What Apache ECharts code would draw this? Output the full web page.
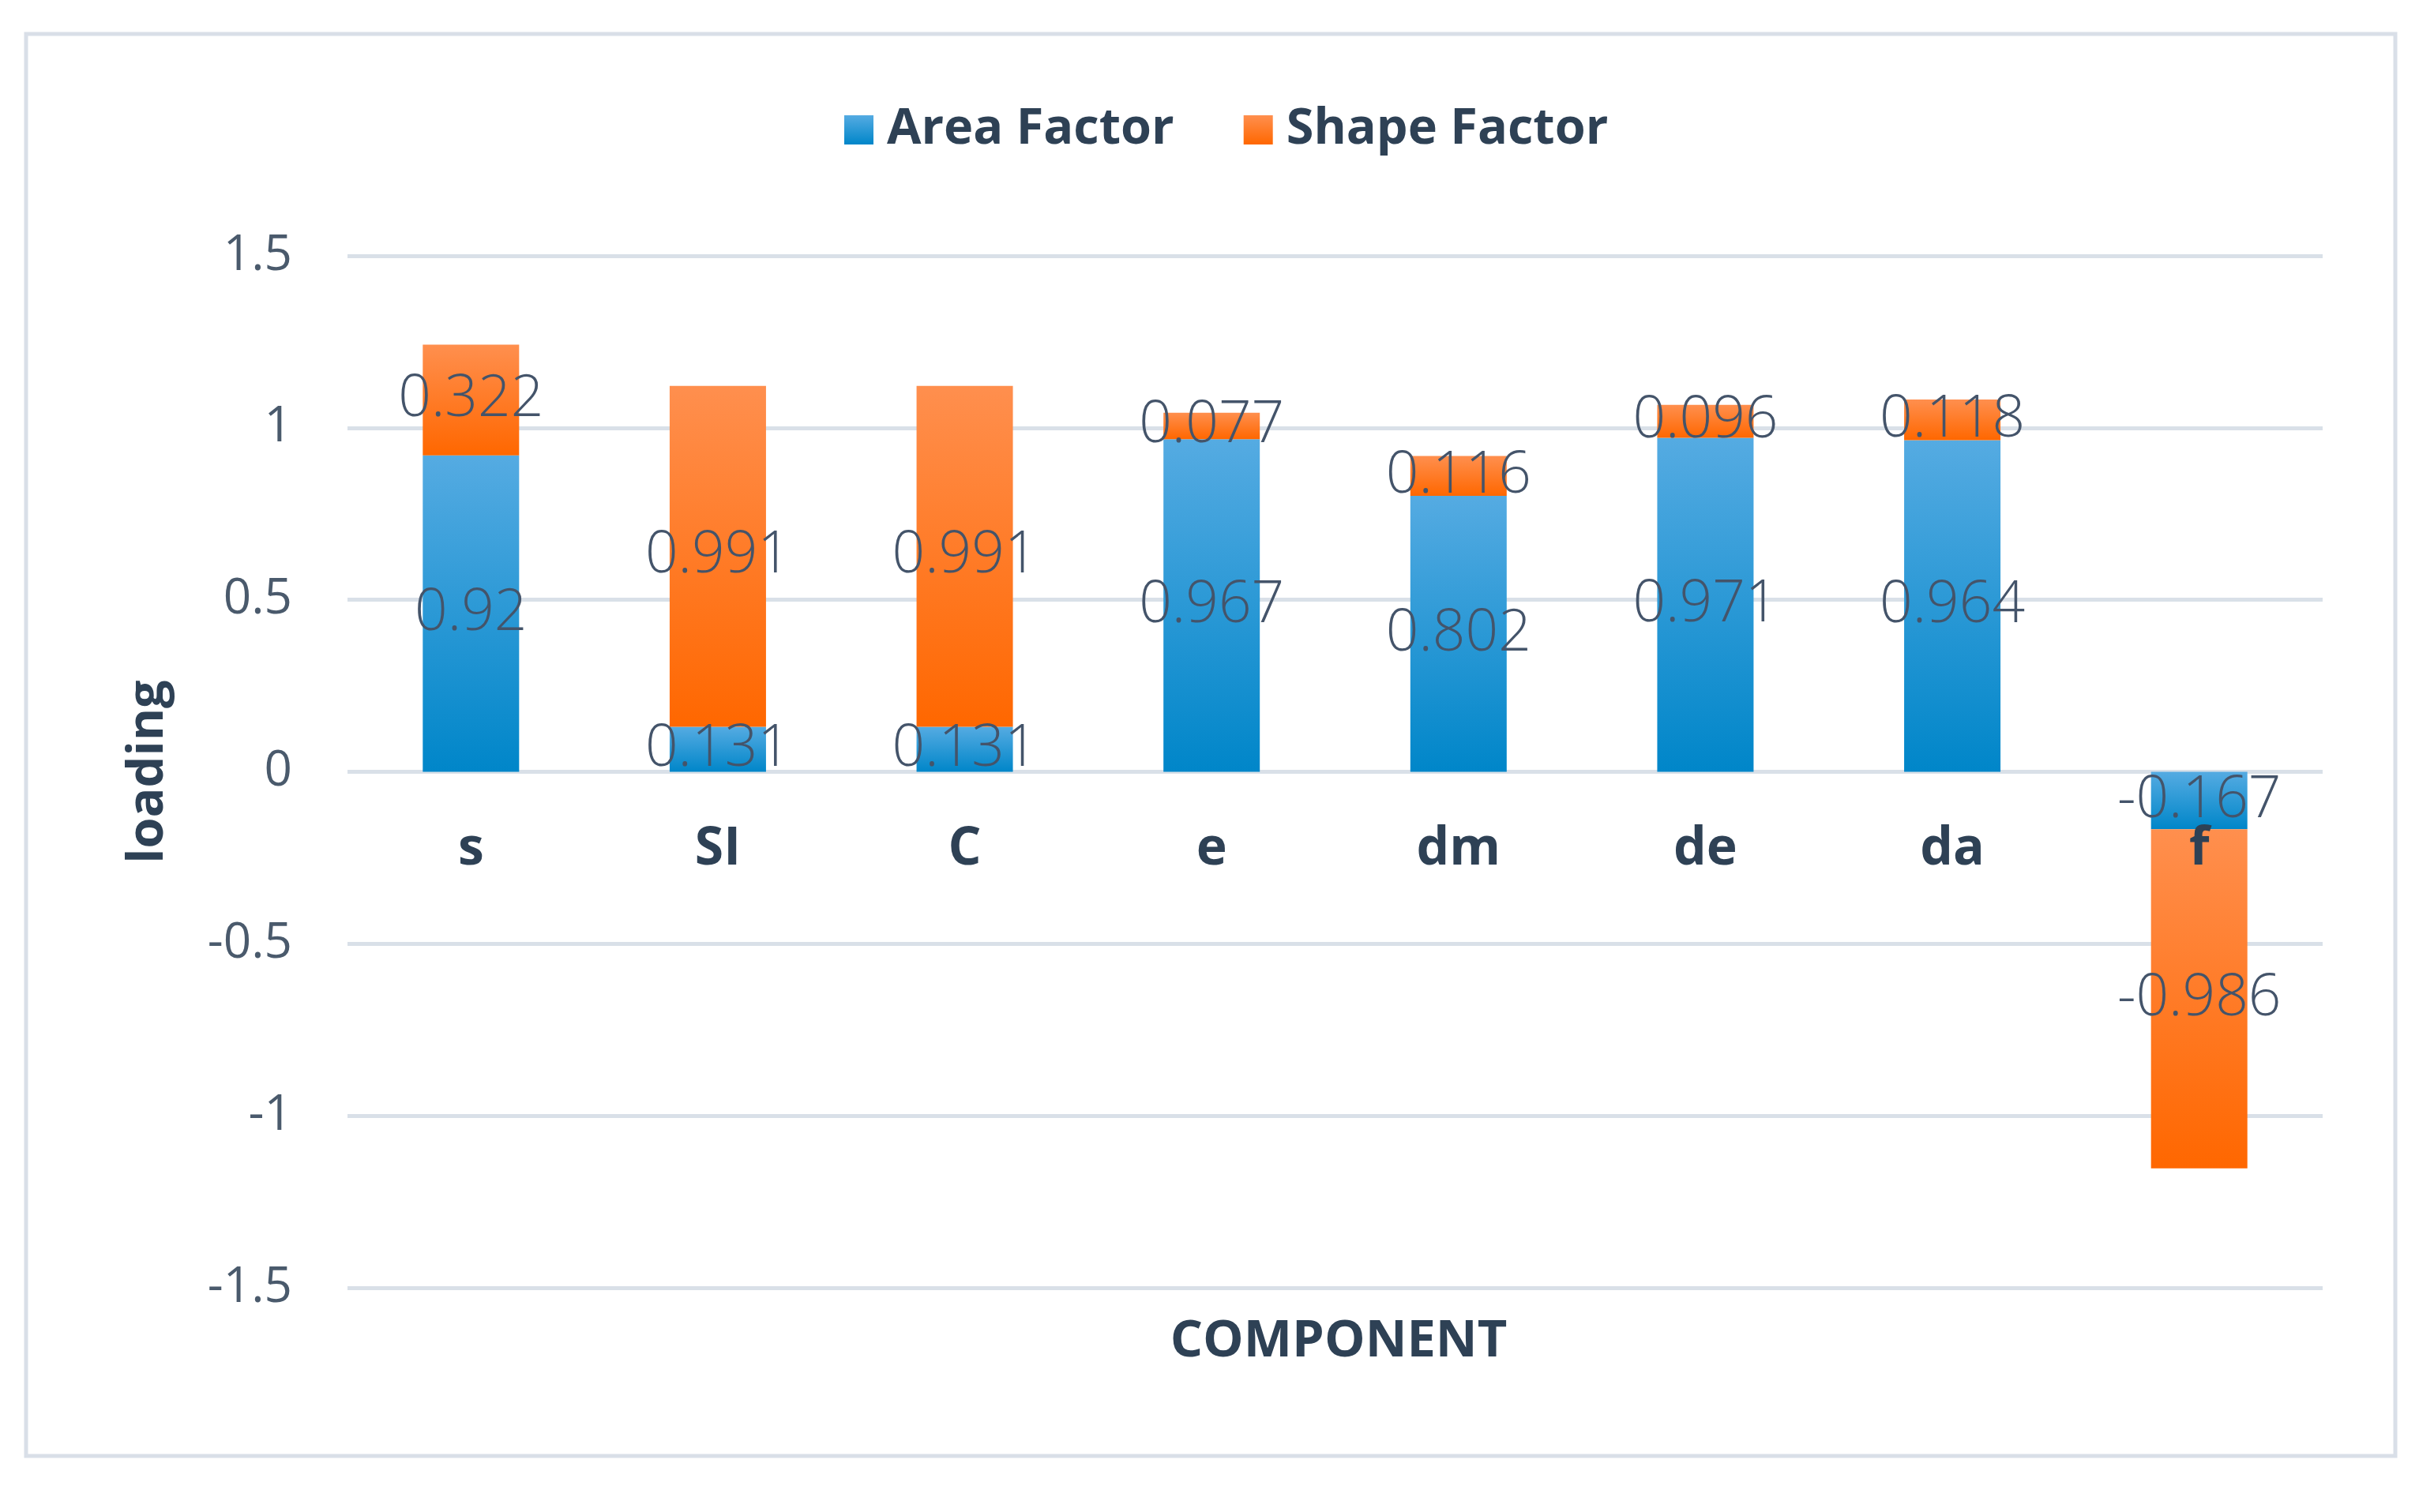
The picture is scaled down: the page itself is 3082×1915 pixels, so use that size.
<!DOCTYPE html>
<html>
<head>
<meta charset="utf-8">
<script src="https://cdn.jsdelivr.net/npm/echarts@6/dist/echarts.min.js"></script>
<style>
html,body{margin:0;padding:0;background:#fff;}
#c{width:3082px;height:1915px;}
</style>
</head>
<body>
<div id="c"></div>
<script>
const categories = ['s', 'SI', 'C', 'e', 'dm', 'de', 'da', 'f'];
const areaFactor = [0.92, 0.131, 0.131, 0.967, 0.802, 0.971, 0.964, -0.167];
const shapeFactor = [0.322, 0.991, 0.991, 0.077, 0.116, 0.096, 0.118, -0.986];
const seriesNames = ['Area Factor', 'Shape Factor'];
const xAxisName = 'COMPONENT';
const yAxisName = 'loading';
const yMin = -1.5, yMax = 1.5, yStep = 0.5;

const FONT = '"Open Sans", "Noto Sans", sans-serif';
const gridColor = '#d9e0e8';
const W = 3082, H = 1915;
const G = { left: 440, right: 141, top: 324, bottom: 284 };
// pixel position of value 0 inside the main grid (for the category label axis)
const plotH = H - G.top - G.bottom;
const zeroY = G.top + plotH * (yMax - 0) / (yMax - yMin);

function grad(top, bottom) {
  return new echarts.graphic.LinearGradient(0, 0, 0, 1, [
    { offset: 0, color: top },
    { offset: 1, color: bottom }
  ]);
}
const blue = grad('#55abe2', '#0086c9');
const orange = grad('#ff8f4e', '#ff6700');

const labelStyle = {
  show: true,
  position: 'inside',
  fontFamily: FONT,
  fontSize: 73,
  fontWeight: 300,
  color: '#44546a'
};

const chart = echarts.init(document.getElementById('c'));
chart.setOption({
  backgroundColor: '#ffffff',
  animation: false,
  graphic: [{
    type: 'rect',
    shape: { x: 33, y: 43, width: 3000, height: 1801 },
    style: { fill: 'none', stroke: '#d9dfe8', lineWidth: 5 },
    silent: true,
    z: -10
  }],
  title: {
    text: xAxisName,
    left: 1690,
    textAlign: 'center',
    top: 1662,
    textStyle: {
      fontFamily: FONT,
      fontSize: 65,
      fontWeight: 'bold',
      color: '#2e4155'
    }
  },
  legend: {
    data: seriesNames,
    left: 1064,
    top: 128,
    itemWidth: 37,
    itemHeight: 37,
    itemGap: 88,
    icon: 'rect',
    textStyle: {
      fontFamily: FONT,
      fontSize: 63,
      fontWeight: 'bold',
      color: '#2e4155',
      padding: [0, 0, 0, 12]
    }
  },
  grid: [
    { left: G.left, right: G.right, top: G.top, bottom: G.bottom, containLabel: false },
    { left: G.left, right: G.right, top: G.top, bottom: H - zeroY, containLabel: false }
  ],
  xAxis: [{
    type: 'category',
    gridIndex: 0,
    data: categories,
    axisLine: { show: false },
    axisTick: { show: false },
    axisLabel: { show: false }
  }, {
    type: 'category',
    gridIndex: 1,
    data: categories,
    position: 'bottom',
    z: 10,
    axisLine: { show: false, onZero: false },
    axisTick: { show: false },
    axisLabel: {
      margin: 66,
      fontFamily: FONT,
      fontSize: 66,
      fontWeight: 'bold',
      color: '#2e4155'
    }
  }],
  yAxis: [{
    type: 'value',
    gridIndex: 0,
    min: yMin,
    max: yMax,
    interval: yStep,
    name: yAxisName,
    nameLocation: 'middle',
    nameRotate: 90,
    nameGap: 220,
    nameTextStyle: {
      fontFamily: FONT,
      fontSize: 63,
      fontWeight: 'bold',
      color: '#2e4155'
    },
    axisLine: { show: false },
    axisTick: { show: false },
    axisLabel: {
      margin: 70,
      fontFamily: FONT,
      fontSize: 62,
      color: '#4a5a6c'
    },
    splitLine: { lineStyle: { color: gridColor, width: 5 } }
  }, {
    type: 'value',
    gridIndex: 1,
    min: 0,
    max: yMax,
    show: false
  }],
  series: [{
    name: seriesNames[0],
    type: 'bar',
    stack: 'total',
    data: areaFactor,
    barWidth: 122,
    itemStyle: { color: blue },
    label: labelStyle
  }, {
    name: seriesNames[1],
    type: 'bar',
    stack: 'total',
    data: shapeFactor,
    barWidth: 122,
    itemStyle: { color: orange },
    label: labelStyle
  }]
});
</script>
</body>
</html>
